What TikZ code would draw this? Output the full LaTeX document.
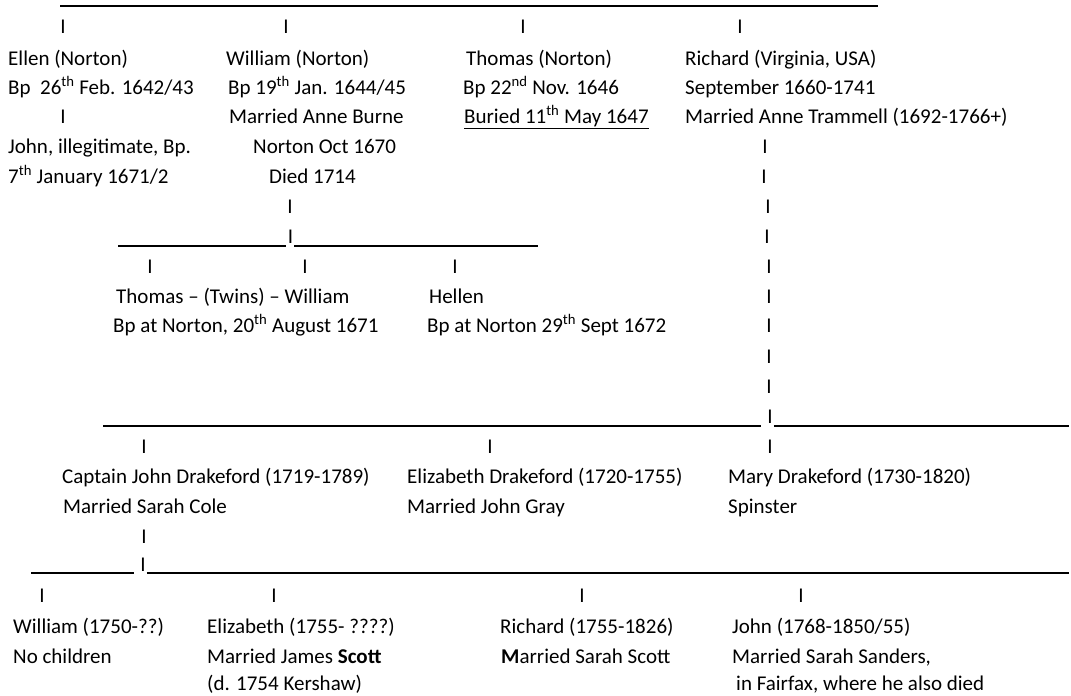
\documentclass[tikz,border=0pt]{standalone}
\usepackage{fontspec}
\setmainfont{Carlito}

\tikzset{
  entry/.style={anchor=base west, inner sep=0pt, font=\fontsize{21}{25}\selectfont},
  tick/.style={anchor=base, inner sep=0pt, font=\fontsize{21}{25}\selectfont},
  rule/.style={line width=1.3pt},
}

\begin{document}
\begin{tikzpicture}[x=1pt, y=-1pt]
\useasboundingbox (0,0) rectangle (1071,696);

% first generation
\coordinate (topL) at (60,6);
\coordinate (topR) at (878,6);
\draw[rule] (topL) -- (topR);

\node[tick] (tEllen) at (63,34) {I};
\node[tick] (tWilliam) at (286,34) {I};
\node[tick] (tThomas) at (523,34) {I};
\node[tick] (tRichard) at (740,34) {I};

\node[entry] (ellen1) at (8,65) {Ellen (Norton)};
\node[entry] (ellen2) at (8,94) {Bp\ \ 26\textsuperscript{th} Feb. 1642/43};
\node[tick] (tJohn) at (63,123) {I};
\node[entry] (john1) at (8,153) {John, illegitimate, Bp.};
\node[entry] (john2) at (8,183) {7\textsuperscript{th} January 1671/2};

\node[entry] (william1) at (226,65) {William (Norton)};
\node[entry] (william2) at (228,94) {Bp 19\textsuperscript{th} Jan. 1644/45};
\node[entry] (william3) at (229,123) {Married Anne Burne};
\node[entry] (william4) at (253,153) {Norton Oct 1670};
\node[entry] (william5) at (269,183) {Died 1714};
\node[tick] (tWm1) at (290,213) {I};

\node[entry] (thomas1) at (466,65) {Thomas (Norton)};
\node[entry] (thomas2) at (463,94) {Bp 22\textsuperscript{nd} Nov. 1646};
\node[entry] (thomas3) at (464,123) {\underline{Buried 11\textsuperscript{th} May 1647}};

\node[entry] (richard1) at (685,65) {Richard (Virginia, USA)};
\node[entry] (richard2) at (685,94) {September 1660-1741};
\node[entry] (richard3) at (685,123) {Married Anne Trammell (1692-1766+)};

\foreach \x/\y [count=\k] in {765/153, 764/183, 768/213, 767/243, 769/273, 769/303, 769/332, 769/363, 769/393}
  \node[tick] (tRich\k) at (\x,\y) {I};

% William's children
\node[tick] (tWm2) at (290.5,243) {I};
\coordinate (wmL) at (118,246);
\coordinate (wmR) at (538,246);
\draw[rule] (wmL) -- ([xshift=-2pt]tWm2.south west |- wmL);
\draw[rule] ([xshift=1pt]tWm2.south east |- wmR) -- (wmR);

\node[tick] (tTwin1) at (150,273) {I};
\node[tick] (tTwin2) at (305,273) {I};
\node[tick] (tHellen) at (455,273) {I};

\node[entry] (twins1) at (116,303) {Thomas -- (Twins) -- William};
\node[entry] (twins2) at (113,332) {Bp at Norton, 20\textsuperscript{th} August 1671};
\node[entry] (hellen1) at (429,303) {Hellen};
\node[entry] (hellen2) at (427,332) {Bp at Norton 29\textsuperscript{th} Sept 1672};

% Richard's children
\node[tick] (tRich10) at (770,423) {I};
\coordinate (midL) at (103,426);
\coordinate (midR) at (1069,426);
\draw[rule] (midL) -- ([xshift=-6pt]tRich10.south west |- midL);
\draw[rule] ([xshift=1pt]tRich10.south east |- midR) -- (midR);

\node[tick] (tCapt) at (144,453) {I};
\node[tick] (tEliz) at (490,453) {I};
\node[tick] (tMary) at (770,453) {I};

\node[entry] (capt1) at (62,483) {Captain John Drakeford (1719-1789)};
\node[entry] (capt2) at (63,513) {Married Sarah Cole};
\node[entry] (eliz1) at (407,483) {Elizabeth Drakeford (1720-1755)};
\node[entry] (eliz2) at (407,513) {Married John Gray};
\node[entry] (mary1) at (728,483) {Mary Drakeford (1730-1820)};
\node[entry] (mary2) at (728,513) {Spinster};

\node[tick] (tCapt2) at (144,543) {I};

% Captain John's children
\node[tick] (tCapt3) at (143,571) {I};
\coordinate (lowL) at (31,573);
\coordinate (lowR) at (1069,573);
\draw[rule] (lowL) -- ([xshift=-6pt]tCapt3.south west |- lowL);
\draw[rule] ([xshift=1pt]tCapt3.south east |- lowR) -- (lowR);

\node[tick] (tWill) at (42,602) {I};
\node[tick] (tEliz2) at (274,602) {I};
\node[tick] (tRich2) at (582,602) {I};
\node[tick] (tJohn2) at (801,602) {I};

\node[entry] (will1) at (13,633) {William (1750-??)};
\node[entry] (will2) at (13,663) {No children};
\node[entry] (elizb1) at (207,633) {Elizabeth (1755- ????)};
\node[entry] (elizb2) at (207,663) {Married James \textbf{Scott}};
\node[entry] (elizb3) at (207,690) {(d. 1754 Kershaw)};
\node[entry] (richb1) at (500,633) {Richard (1755-1826)};
\node[entry] (richb2) at (501,663) {\textbf{M}arried Sarah Scott};
\node[entry] (johnb1) at (732,633) {John (1768-1850/55)};
\node[entry] (johnb2) at (732,663) {Married Sarah Sanders,};
\node[entry] (johnb3) at (736,690) {in Fairfax, where he also died};

\end{tikzpicture}
\end{document}
